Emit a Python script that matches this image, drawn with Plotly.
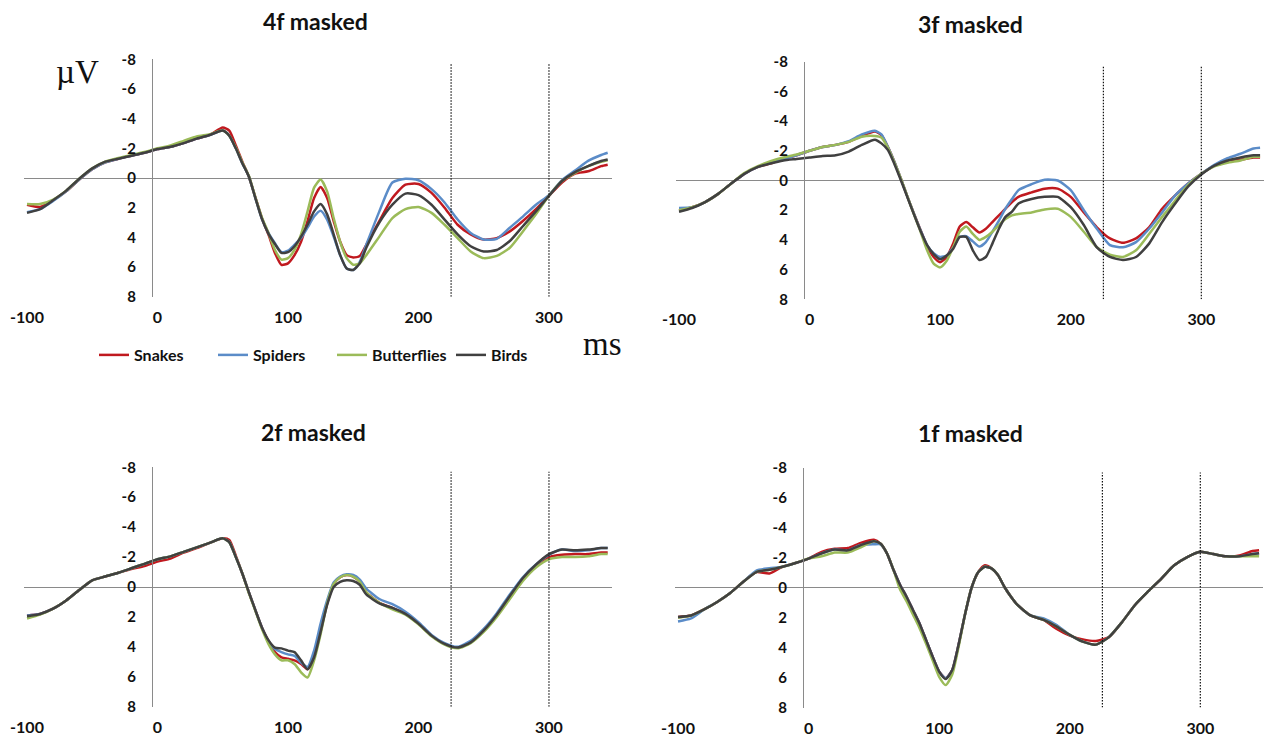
import plotly.graph_objects as go

# ---------------- data (µV; time in ms) ----------------
T = [-100, -90, -80, -70, -60, -50, -40, -30, -20, -10, 0, 10, 20, 30, 40, 50,
     55, 60, 65, 70, 75, 80, 85, 90, 95, 100, 105, 110, 115, 120, 125, 130, 135,
     140, 145, 150, 155, 160, 170, 180, 190, 200, 210, 220, 230, 240, 250, 260,
     270, 280, 290, 300, 310, 320, 330, 340, 345]

SERIES = ["Snakes", "Spiders", "Butterflies", "Birds"]
COLORS = ["#C0191F", "#5B8CC8", "#9BBB59", "#404040"]
PANEL_TITLES = ["4f masked", "3f masked", "2f masked", "1f masked"]
X_TICKS = [-100, 0, 100, 200, 300]
X_TICKTEXT = ["-100", "0", "100", "200", "300"]
Y_TICKS = [-8, -6, -4, -2, 0, 2, 4, 6, 8]
Y_TICKTEXT = ["-8", "-6", "-4", "-2", "0", "2", "4", "6", "8"]
MARK_TIMES = [225, 300]

# 4f masked
f4_snakes = [1.8, 1.95, 1.5, 0.9, 0.1, -0.6, -1.05, -1.3, -1.5, -1.7, -1.95, -2.1, -2.35, -2.65, -2.9, -3.4,
             -3.2, -2.2, -1.1, -0.1, 1.3, 2.7, 3.8, 5.05, 5.85, 5.75, 5.2, 4.3, 2.9, 1.35, 0.6, 1.35, 2.9,
             4.3, 5.2, 5.35, 5.25, 4.5, 2.9, 1.35, 0.45, 0.4, 1.0, 2.0, 3.15, 3.8, 4.15, 4.05,
             3.6, 2.9, 2.1, 1.2, 0.3, -0.3, -0.45, -0.8, -0.9]
f4_spiders = [2.3, 2.1, 1.55, 0.9, 0.1, -0.6, -1.05, -1.3, -1.5, -1.7, -1.95, -2.1, -2.35, -2.65, -2.9, -3.2,
              -2.85, -2.0, -1.0, -0.1, 1.35, 2.75, 3.7, 4.4, 5.0, 4.9, 4.5, 4.05, 3.35, 2.6, 2.2, 2.8, 3.95,
              5.2, 6.1, 6.2, 5.65, 4.5, 2.25, 0.3, 0.05, 0.15, 0.75, 1.65, 2.8, 3.7, 4.15, 4.1,
              3.35, 2.6, 1.8, 1.15, 0.15, -0.5, -1.15, -1.55, -1.7]
f4_butterflies = [1.75, 1.75, 1.45, 0.85, 0.05, -0.65, -1.1, -1.35, -1.55, -1.75, -2.0, -2.2, -2.5, -2.8, -2.95, -3.2,
                  -2.85, -2.05, -1.05, -0.15, 1.3, 2.65, 3.7, 4.85, 5.5, 5.4, 4.85, 3.8, 2.25, 0.65, 0.1, 0.9, 2.7,
                  4.3, 5.4, 5.85, 5.75, 5.2, 3.95, 2.7, 2.1, 1.95, 2.35, 3.15, 4.05, 4.95, 5.4, 5.25,
                  4.7, 3.6, 2.45, 1.2, 0.2, -0.35, -0.8, -1.1, -1.2]
f4_birds = [2.35, 2.1, 1.5, 0.85, 0.05, -0.65, -1.1, -1.3, -1.5, -1.7, -1.95, -2.1, -2.35, -2.65, -2.9, -3.2,
            -2.85, -2.0, -1.0, -0.1, 1.35, 2.75, 3.75, 4.45, 5.05, 5.0, 4.6, 3.95, 3.15, 2.25, 1.75, 2.45, 3.8,
            5.2, 6.1, 6.2, 5.75, 4.7, 3.0, 1.8, 1.05, 1.15, 1.8, 2.8, 3.8, 4.6, 4.95, 4.85,
            4.25, 3.25, 2.25, 1.2, 0.2, -0.4, -0.8, -1.15, -1.25]

# 3f masked
f3_snakes = [2.0, 1.8, 1.45, 0.9, 0.2, -0.45, -0.9, -1.15, -1.45, -1.7, -2.0, -2.25, -2.4, -2.6, -3.0, -3.3,
             -3.05, -2.25, -1.25, -0.1, 1.1, 2.25, 3.35, 4.4, 5.15, 5.5, 5.15, 4.25, 3.1, 2.8, 3.15, 3.5, 3.25,
             2.8, 2.35, 1.9, 1.45, 1.1, 0.8, 0.55, 0.55, 1.1, 2.15, 3.15, 3.9, 4.2, 3.9, 3.15,
             1.9, 1.0, 0.2, -0.45, -1.0, -1.25, -1.4, -1.55, -1.55]
f3_spiders = [1.85, 1.8, 1.45, 0.9, 0.2, -0.45, -0.9, -1.2, -1.45, -1.7, -2.0, -2.25, -2.4, -2.65, -3.1, -3.35,
              -3.1, -2.25, -1.25, -0.1, 1.1, 2.25, 3.35, 4.35, 4.9, 5.15, 5.05, 4.5, 3.8, 3.75, 4.1, 4.45, 4.15,
              3.45, 2.7, 1.9, 1.25, 0.65, 0.25, -0.05, 0.0, 0.65, 2.0, 3.25, 4.35, 4.5, 4.15, 3.25,
              2.15, 1.0, 0.2, -0.45, -1.05, -1.5, -1.8, -2.15, -2.2]
f3_butterflies = [2.0, 1.8, 1.45, 0.9, 0.2, -0.5, -0.95, -1.3, -1.55, -1.75, -2.0, -2.25, -2.4, -2.6, -2.95, -3.0,
                  -2.9, -2.2, -1.2, -0.1, 1.1, 2.3, 3.45, 4.7, 5.6, 5.85, 5.4, 4.5, 3.45, 3.1, 3.6, 4.0, 3.8,
                  3.45, 3.0, 2.6, 2.35, 2.25, 2.15, 1.95, 1.9, 2.45, 3.45, 4.5, 5.0, 5.15, 4.7, 3.6,
                  2.45, 1.35, 0.3, -0.45, -0.95, -1.2, -1.35, -1.6, -1.6]
f3_birds = [2.1, 1.85, 1.45, 0.9, 0.2, -0.45, -0.9, -1.15, -1.35, -1.45, -1.55, -1.65, -1.7, -1.95, -2.4, -2.75,
            -2.5, -2.05, -1.1, 0.0, 1.15, 2.3, 3.4, 4.35, 4.95, 5.3, 5.05, 4.6, 3.8, 3.8, 4.7, 5.35, 5.15,
            4.25, 3.25, 2.45, 2.1, 1.55, 1.25, 1.1, 1.1, 1.8, 3.0, 4.5, 5.15, 5.35, 5.15, 4.25,
            2.8, 1.55, 0.4, -0.4, -1.0, -1.35, -1.55, -1.7, -1.7]

# 2f masked
f2_snakes = [1.9, 1.8, 1.45, 0.9, 0.2, -0.45, -0.7, -0.95, -1.2, -1.4, -1.7, -1.9, -2.3, -2.6, -2.95, -3.25,
             -3.15, -2.1, -0.9, 0.35, 1.55, 2.7, 3.6, 4.35, 4.7, 4.8, 4.9, 5.15, 5.5, 4.7, 2.9, 1.1, -0.2,
             -0.65, -0.8, -0.7, -0.35, 0.35, 1.05, 1.4, 1.8, 2.45, 3.25, 3.8, 4.05, 3.7, 2.9, 1.9,
             0.65, -0.55, -1.4, -2.0, -2.15, -2.2, -2.2, -2.3, -2.3]
f2_spiders = [1.9, 1.8, 1.45, 0.9, 0.2, -0.45, -0.7, -0.95, -1.25, -1.55, -1.85, -2.05, -2.35, -2.65, -2.95, -3.25,
              -3.0, -2.0, -0.9, 0.35, 1.55, 2.7, 3.6, 4.15, 4.35, 4.5, 4.6, 5.05, 5.35, 4.25, 2.45, 0.9, -0.3,
              -0.7, -0.85, -0.8, -0.5, 0.1, 0.8, 1.15, 1.65, 2.35, 3.2, 3.75, 4.0, 3.6, 2.8, 1.75,
              0.5, -0.65, -1.5, -2.15, -2.5, -2.4, -2.45, -2.6, -2.6]
f2_butterflies = [2.1, 1.85, 1.45, 0.9, 0.2, -0.45, -0.7, -0.95, -1.25, -1.55, -1.85, -2.05, -2.35, -2.65, -2.95, -3.25,
                  -3.0, -2.0, -0.9, 0.4, 1.6, 2.8, 3.8, 4.5, 4.9, 4.9, 5.15, 5.7, 6.05, 4.9, 3.15, 1.1, -0.2,
                  -0.65, -0.8, -0.7, -0.35, 0.35, 1.05, 1.5, 1.85, 2.5, 3.3, 3.85, 4.1, 3.75, 3.0, 2.0,
                  0.8, -0.4, -1.3, -1.85, -2.0, -2.0, -2.05, -2.2, -2.2]
f2_birds = [1.95, 1.8, 1.45, 0.9, 0.2, -0.45, -0.7, -0.95, -1.25, -1.55, -1.85, -2.05, -2.35, -2.65, -2.95, -3.25,
            -3.0, -2.0, -0.9, 0.35, 1.55, 2.7, 3.55, 4.05, 4.1, 4.25, 4.35, 4.9, 5.5, 4.7, 3.0, 1.2, 0.0,
            -0.35, -0.45, -0.4, -0.15, 0.5, 1.1, 1.4, 1.8, 2.45, 3.25, 3.8, 4.05, 3.7, 2.9, 1.85,
            0.6, -0.6, -1.5, -2.2, -2.5, -2.45, -2.5, -2.6, -2.6]

# 1f masked
f1_snakes = [1.95, 1.85, 1.45, 0.95, 0.35, -0.4, -1.05, -0.95, -1.4, -1.65, -1.95, -2.4, -2.6, -2.65, -3.0, -3.2,
             -2.95, -2.3, -1.2, -0.2, 0.6, 1.5, 2.4, 3.5, 4.6, 5.6, 6.05, 5.5, 3.75, 1.7, -0.05, -1.05, -1.5,
             -1.3, -0.85, -0.05, 0.6, 1.15, 1.85, 2.15, 2.75, 3.2, 3.45, 3.55, 3.3, 2.3, 1.15, 0.25,
             -0.6, -1.5, -2.05, -2.4, -2.25, -2.1, -2.15, -2.45, -2.5]
f1_spiders = [2.25, 2.05, 1.45, 0.95, 0.35, -0.4, -1.15, -1.3, -1.4, -1.65, -1.95, -2.3, -2.55, -2.5, -2.85, -2.9,
              -2.9, -2.3, -1.2, -0.2, 0.6, 1.5, 2.4, 3.5, 4.6, 5.6, 6.05, 5.5, 3.75, 1.7, -0.05, -1.05, -1.4,
              -1.3, -0.85, -0.05, 0.6, 1.15, 1.85, 2.05, 2.5, 3.15, 3.6, 3.8, 3.3, 2.3, 1.15, 0.25,
              -0.6, -1.5, -2.05, -2.4, -2.25, -2.1, -2.1, -2.25, -2.3]
f1_butterflies = [2.0, 1.85, 1.45, 0.95, 0.35, -0.4, -1.05, -1.2, -1.4, -1.65, -1.95, -2.1, -2.35, -2.35, -2.7, -3.1,
                  -2.95, -2.3, -1.2, 0.1, 0.9, 1.8, 2.7, 3.75, 4.85, 5.95, 6.5, 5.8, 3.9, 1.7, -0.05, -1.05, -1.4,
                  -1.3, -0.85, -0.05, 0.6, 1.15, 1.85, 2.15, 2.6, 3.15, 3.6, 3.8, 3.3, 2.3, 1.15, 0.25,
                  -0.6, -1.5, -2.05, -2.4, -2.25, -2.1, -2.1, -2.1, -2.1]
f1_birds = [1.95, 1.85, 1.45, 0.95, 0.35, -0.4, -1.05, -1.2, -1.4, -1.65, -1.95, -2.3, -2.55, -2.5, -2.85, -3.1,
            -2.95, -2.3, -1.2, -0.2, 0.6, 1.5, 2.4, 3.5, 4.6, 5.6, 6.1, 5.5, 3.75, 1.7, -0.05, -1.05, -1.4,
            -1.3, -0.85, -0.05, 0.6, 1.15, 1.85, 2.15, 2.6, 3.15, 3.6, 3.8, 3.3, 2.3, 1.15, 0.25,
            -0.6, -1.5, -2.05, -2.4, -2.25, -2.1, -2.1, -2.25, -2.3]

PANEL_DATA = [
    [f4_snakes, f4_spiders, f4_butterflies, f4_birds],
    [f3_snakes, f3_spiders, f3_butterflies, f3_birds],
    [f2_snakes, f2_spiders, f2_butterflies, f2_birds],
    [f1_snakes, f1_spiders, f1_butterflies, f1_birds],
]

# ---------------- layout geometry (pixels in the 1266x738 page) ----------------
W, H = 1266, 738


def px(X):
    return min(max(X / W, 0.0), 1.0)


def py(Y):
    return min(max(1 - Y / H, 0.0), 1.0)


X_RANGE = [-102, 348]
# (left, right, top, bottom, y-axis line x, title x, title y)
GEOM = [
    (24.4, 611.6, 59.3, 296.7, 152, 315, 21),
    (676.4, 1264.0, 61.7, 299.3, 804, 970, 24),
    (24.4, 611.6, 467.3, 706.7, 152, 313, 432),
    (675.4, 1263.0, 468.0, 707.5, 803, 970, 433),
]

TICK_FONT = dict(family="Lato", size=16, color="#111111", weight="bold")
YTICK_FONT = dict(family="Lato", size=15, color="#111111", weight="bold")

fig = go.Figure()
layout = dict(
    width=W, height=H, autosize=False,
    margin=dict(l=0, r=0, t=0, b=0, pad=0, autoexpand=False),
    paper_bgcolor="white", plot_bgcolor="white",
    showlegend=True,
    shapes=[], annotations=[],
)

for i, (title, data, g) in enumerate(zip(PANEL_TITLES, PANEL_DATA, GEOM)):
    n = i + 1
    xa = "x" if n == 1 else f"x{n}"
    ya = "y" if n == 1 else f"y{n}"
    left, right, top, bottom, yline, tx, ty = g
    for name, vals, col in zip(SERIES, data, COLORS):
        fig.add_trace(go.Scatter(
            x=T, y=vals, name=name, xaxis=xa, yaxis=ya, mode="lines",
            line=dict(color=col, width=2.5, shape="spline", smoothing=0.6),
            showlegend=(n == 1), hoverinfo="skip",
        ))
    layout["xaxis" if n == 1 else f"xaxis{n}"] = dict(
        domain=[px(left), px(right)], range=X_RANGE, anchor=ya,
        showline=False, showgrid=False, zeroline=False, automargin=False,
        tickvals=X_TICKS, ticktext=X_TICKTEXT, ticks="",
        tickfont=TICK_FONT, ticklabelstandoff=9,
    )
    layout["yaxis" if n == 1 else f"yaxis{n}"] = dict(
        domain=[py(bottom), py(top)], range=[8, -8], anchor="free",
        position=px(yline), automargin=False,
        showline=True, linecolor="#8a8a8a", linewidth=1.3,
        showgrid=False, zeroline=True, zerolinecolor="#8a8a8a", zerolinewidth=1.3,
        tickvals=Y_TICKS, ticktext=Y_TICKTEXT, ticks="",
        tickfont=YTICK_FONT, ticklabelstandoff=13,
    )
    for mt in MARK_TIMES:
        layout["shapes"].append(dict(
            type="line", xref=xa, yref=ya, x0=mt, x1=mt, y0=8, y1=-7.7,
            line=dict(color="#111111", width=1.2, dash="1.5px,1.5px"),
        ))
    layout["annotations"].append(dict(
        text=title, xref="paper", yref="paper", x=px(tx), y=py(ty),
        xanchor="center", yanchor="middle", showarrow=False,
        font=dict(family="Lato", size=23, color="#111111", weight="bold"),
    ))

layout["annotations"].append(dict(
    text="\u00b5V", xref="paper", yref="paper", x=px(77), y=py(72),
    xanchor="center", yanchor="middle", showarrow=False,
    font=dict(family="Liberation Serif", size=33, color="#111111"),
))
layout["annotations"].append(dict(
    text="ms", xref="paper", yref="paper", x=px(602), y=py(344),
    xanchor="center", yanchor="middle", showarrow=False,
    font=dict(family="Liberation Serif", size=33, color="#111111"),
))

layout["legend"] = dict(
    orientation="h", x=px(94), y=py(355), xanchor="left", yanchor="middle",
    font=dict(family="Lato", size=16, color="#111111", weight="bold"),
    bgcolor="rgba(0,0,0,0)", borderwidth=0, itemwidth=30,
    entrywidth=74, entrywidthmode="pixels",
)

fig.update_layout(**layout)
fig.write_html(
    "out.html",
    config={"displayModeBar": False},
    post_script="document.body.style.margin='0';document.body.style.overflow='hidden';",
)
